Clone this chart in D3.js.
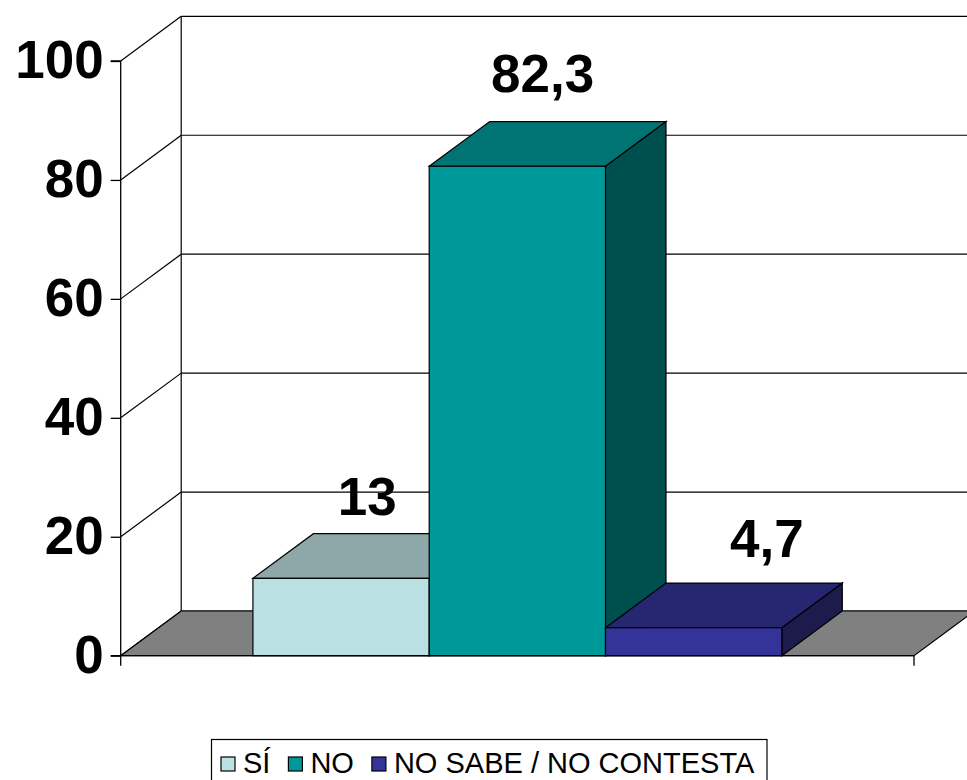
<!DOCTYPE html>
<html>
<head>
<meta charset="utf-8">
<script src="https://cdn.jsdelivr.net/npm/d3@7"></script>
<style>
body { margin: 0; background: #fff; }
text { font-family: Arial, "Liberation Sans", sans-serif; }
</style>
</head>
<body>
<script>
//chart data
var series = ["SÍ", "NO", "NO SABE / NO CONTESTA"];
var values = [13, 82.3, 4.7];
var valueLabels = ["13", "82,3", "4,7"];
var yTicks = [0, 20, 40, 60, 80, 100];

//colors per series: front, top, side
var frontColors = ["#bbe0e3", "#009999", "#333399"];
var topColors = ["#8ea8a9", "#007473", "#272671"];
var sideColors = ["#7f9899", "#004f4f", "#1c1b4c"];

//SVG dimension variables
var w = 967, h = 780;
var dx = 60.5, dy = -44.7; //3d depth offset

var svg = d3.select("body")
    .append("svg")
    .attr("width", w)
    .attr("height", h);

//value scale (front plane)
var y = d3.scaleLinear()
    .domain([0, 100])
    .range([655.7, 61]);

//series scale inside the single category, gap width 75%
var x = d3.scaleBand()
    .domain(series)
    .range([120.7, 914])
    .paddingInner(0)
    .paddingOuter(0.75);

var x0 = 120.7, x1 = 914;

//back wall gridlines
svg.selectAll(".grid")
    .data(yTicks)
    .enter()
    .append("line")
    .attr("class", "grid")
    .attr("x1", x0 + dx)
    .attr("x2", x1 + dx)
    .attr("y1", function(d){ return y(d) + dy; })
    .attr("y2", function(d){ return y(d) + dy; })
    .style("stroke", "#000")
    .style("stroke-width", 1.2);

//side wall diagonals
svg.selectAll(".diag")
    .data(yTicks)
    .enter()
    .append("line")
    .attr("class", "diag")
    .attr("x1", x0)
    .attr("x2", x0 + dx)
    .attr("y1", function(d){ return y(d); })
    .attr("y2", function(d){ return y(d) + dy; })
    .style("stroke", "#000")
    .style("stroke-width", 1.2);

//back wall left edge
svg.append("line")
    .attr("x1", x0 + dx)
    .attr("x2", x0 + dx)
    .attr("y1", y(0) + dy)
    .attr("y2", y(100) + dy)
    .style("stroke", "#000")
    .style("stroke-width", 1.2);

//floor
svg.append("path")
    .attr("d", "M" + x0 + "," + y(0) + "L" + x1 + "," + y(0) +
        "L" + (x1 + dx) + "," + (y(0) + dy) + "L" + (x0 + dx) + "," + (y(0) + dy) + "Z")
    .style("fill", "#808080")
    .style("stroke", "#000")
    .style("stroke-width", 1.2);

//bars, drawn left to right
var bars = svg.selectAll(".bar")
    .data(values)
    .enter()
    .append("g")
    .attr("class", "bar");

function pts(arr){
    return arr.map(function(p){ return p.join(","); }).join(" ");
}

bars.append("polygon") //side face
    .attr("points", function(d, i){
        var r = x(series[i]) + x.bandwidth();
        return pts([[r, y(d)], [r + dx, y(d) + dy], [r + dx, y(0) + dy], [r, y(0)]]);
    })
    .style("fill", function(d, i){ return sideColors[i]; })
    .style("stroke", "#000")
    .style("stroke-width", 1.2);

bars.append("polygon") //top face
    .attr("points", function(d, i){
        var l = x(series[i]), r = l + x.bandwidth();
        return pts([[l, y(d)], [r, y(d)], [r + dx, y(d) + dy], [l + dx, y(d) + dy]]);
    })
    .style("fill", function(d, i){ return topColors[i]; })
    .style("stroke", "#000")
    .style("stroke-width", 1.2);

bars.append("rect") //front face
    .attr("x", function(d, i){ return x(series[i]); })
    .attr("y", function(d){ return y(d); })
    .attr("width", x.bandwidth())
    .attr("height", function(d){ return y(0) - y(d); })
    .style("fill", function(d, i){ return frontColors[i]; })
    .style("stroke", "#000")
    .style("stroke-width", 1.2);

//front value axis
var yAxis = d3.axisLeft(y)
    .tickValues(yTicks)
    .tickSize(10)
    .tickPadding(7)
    .tickFormat(d3.format("d"));

var axis = svg.append("g")
    .attr("class", "axis")
    .attr("transform", "translate(" + x0 + ",0)")
    .call(yAxis);

axis.select(".domain")
    .attr("d", "M-10," + y(100) + "H0V" + y(0) + "H-10")
    .style("stroke", "#000")
    .style("stroke-width", 1.3);
axis.selectAll("line").style("stroke", "#000").style("stroke-width", 1.3);
axis.selectAll("text")
    .style("font-size", "53px")
    .style("font-weight", "bold")
    .style("fill", "#000");

//category axis with end ticks
svg.append("path")
    .attr("d", "M" + x0 + "," + (y(0) + 10) + "V" + y(0) + "H" + x1 + "V" + (y(0) + 10))
    .style("fill", "none")
    .style("stroke", "#000")
    .style("stroke-width", 1.3);

//value labels above bars
var labelDx = [-4, -5, 43];
var labelDy = [-19, -30, -26];

svg.selectAll(".vlabel")
    .data(values)
    .enter()
    .append("text")
    .attr("class", "vlabel")
    .attr("text-anchor", "middle")
    .attr("x", function(d, i){ return x(series[i]) + x.bandwidth() / 2 + dx / 2 + labelDx[i]; })
    .attr("y", function(d, i){ return y(d) + dy + labelDy[i]; })
    .style("font-size", "53px")
    .style("font-weight", "bold")
    .text(function(d, i){ return valueLabels[i]; });

//legend
var legend = svg.append("g").attr("class", "legend");

legend.append("rect")
    .attr("x", 211.5)
    .attr("y", 739.5)
    .attr("width", 555.5)
    .attr("height", 60)
    .style("fill", "#fff")
    .style("stroke", "#000")
    .style("stroke-width", 1.2);

var lx = 221;
series.forEach(function(s, i){
    legend.append("rect")
        .attr("x", lx)
        .attr("y", 757)
        .attr("width", 14)
        .attr("height", 14)
        .style("fill", frontColors[i])
        .style("stroke", "#000")
        .style("stroke-width", 1.2);
    var t = legend.append("text")
        .attr("x", lx + 22)
        .attr("y", 773)
        .style("font-size", "29px")
        .text(s);
    lx = lx + 22 + t.node().getComputedTextLength() + 18;
});
</script>
</body>
</html>
